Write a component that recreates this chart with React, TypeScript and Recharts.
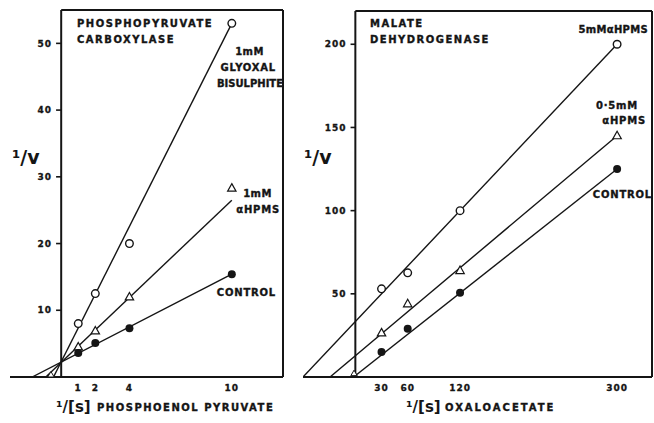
import { ComposedChart, Line, Scatter, XAxis, YAxis, ReferenceLine } from "recharts";

const INK = "#151515";
const FONT = "'DejaVu Sans', sans-serif";

// left panel: phosphopyruvate carboxylase
const pepX = [1, 2, 4, 10];
const pepGlyoxal = [8, 12.5, 20, 53];
const pepHpms = [4.5, 6.9, 12, 28.3];
const pepControl = [3.6, 5.1, 7.3, 15.4];
const pepGlyoxalFit = [{ x: -0.45, y: 0 }, { x: 10, y: 53 }];
const pepHpmsFit = [{ x: -0.9, y: 0 }, { x: 10, y: 26.5 }];
const pepControlFit = [{ x: -1.7, y: 0 }, { x: 10, y: 15.4 }];
const pepIntercept = [{ x: -0.6, y: 0.3 }];
const pepXTicks = [1, 2, 4, 10];
const pepYTicks = [10, 20, 30, 40, 50];

// right panel: malate dehydrogenase
const oaaX = [30, 60, 120, 300];
const mdh5 = [53, 62.6, 100, 200];
const mdh05 = [26.5, 44, 64, 145];
const mdhControl = [15, 29, 50.6, 125];
const mdh5Fit = [{ x: -60, y: 0 }, { x: 300, y: 200 }];
const mdh05Fit = [{ x: -29, y: 0 }, { x: 300, y: 145 }];
const mdhControlFit = [{ x: -2, y: 0 }, { x: 300, y: 125 }];
const mdhIntercept = [{ x: -1.5, y: 2 }];
const oaaXTicks = [30, 60, 120, 300];
const mdhYTicks = [50, 100, 150, 200];

const pts = (xs: number[], ys: number[]) => xs.map((x, i) => ({ x, y: ys[i] }));

const OpenCircle = (p: any) => (
  <circle cx={p.cx} cy={p.cy} r={3.8} fill="#fff" stroke={INK} strokeWidth={1.4} />
);
const FilledCircle = (p: any) => <circle cx={p.cx} cy={p.cy} r={4} fill={INK} />;
const OpenTriangle = (p: any) => (
  <path
    d={`M${p.cx},${p.cy - 4.5} L${p.cx + 4.2},${p.cy + 3} L${p.cx - 4.2},${p.cy + 3} Z`}
    fill="#fff"
    stroke={INK}
    strokeWidth={1.2}
  />
);
const SmallTriangle = (p: any) => (
  <path
    d={`M${p.cx},${p.cy - 3.5} L${p.cx + 3.2},${p.cy + 2} L${p.cx - 3.2},${p.cy + 2} Z`}
    fill="#fff"
    stroke={INK}
    strokeWidth={1}
  />
);

interface PanelProps {
  width: number;
  margin: { top: number; right: number; left: number; bottom: number };
  xDomain: [number, number];
  yDomain: [number, number];
  xTicks: number[];
  yTicks: number[];
  tickLen: number;
  fits: { x: number; y: number }[][];
  open: { x: number; y: number }[];
  tri: { x: number; y: number }[];
  filled: { x: number; y: number }[];
  intercept: { x: number; y: number }[];
}

const tickFont = {
  fill: INK,
  fontSize: 9,
  fontWeight: "bold",
  fontFamily: FONT,
  letterSpacing: 1,
  stroke: INK,
  strokeWidth: 0.3,
};

function Panel(p: PanelProps) {
  const x1 = p.xDomain[1];
  const yMax = p.yDomain[1];
  return (
    <ComposedChart width={p.width} height={423} margin={p.margin}>
      <XAxis
        type="number"
        dataKey="x"
        domain={p.xDomain}
        ticks={p.xTicks}
        tickLine={false}
        axisLine={{ stroke: INK, strokeWidth: 2 }}
        tick={tickFont}
        height={30}
        allowDataOverflow
      />
      <YAxis type="number" dataKey="y" domain={p.yDomain} hide allowDataOverflow />
      <ReferenceLine x={0} stroke={INK} strokeWidth={2} ifOverflow="visible" />
      <ReferenceLine x={x1} stroke={INK} strokeWidth={2} ifOverflow="visible" />
      <ReferenceLine
        segment={[{ x: 0, y: yMax }, { x: x1, y: yMax }]}
        stroke={INK}
        strokeWidth={2}
        ifOverflow="visible"
      />
      {p.yTicks.map((t) => (
        <ReferenceLine
          key={t}
          segment={[{ x: -p.tickLen, y: t }, { x: 0, y: t }]}
          stroke={INK}
          strokeWidth={1.6}
          ifOverflow="visible"
          label={{ value: String(t), position: "left", offset: 4, ...tickFont }}
        />
      ))}
      {p.fits.map((f, i) => (
        <Line
          key={i}
          data={f}
          dataKey="y"
          type="linear"
          stroke={INK}
          strokeWidth={1.4}
          dot={false}
          activeDot={false}
          isAnimationActive={false}
        />
      ))}
      <Scatter data={p.intercept} shape={SmallTriangle} isAnimationActive={false} />
      <Scatter data={p.open} shape={OpenCircle} isAnimationActive={false} />
      <Scatter data={p.tri} shape={OpenTriangle} isAnimationActive={false} />
      <Scatter data={p.filled} shape={FilledCircle} isAnimationActive={false} />
    </ComposedChart>
  );
}

const lbl = {
  fill: INK,
  fontFamily: FONT,
  fontWeight: "bold" as const,
  fontSize: 10,
  letterSpacing: 1.5,
  stroke: INK,
  strokeWidth: 0.35,
};

export default function App() {
  return (
    <div style={{ position: "absolute", left: 0, top: 0, width: 654, height: 423, background: "#fff" }}>
      <div style={{ position: "absolute", left: 0, top: 0 }}>
        <Panel
          width={300}
          margin={{ top: 10, right: 17, left: 10, bottom: 16 }}
          xDomain={[-3, 13]}
          yDomain={[0, 55]}
          xTicks={pepXTicks}
          yTicks={pepYTicks}
          tickLen={0.3}
          fits={[pepGlyoxalFit, pepHpmsFit, pepControlFit]}
          open={pts(pepX, pepGlyoxal)}
          tri={pts(pepX, pepHpms)}
          filled={pts(pepX, pepControl)}
          intercept={pepIntercept}
        />
      </div>
      <div style={{ position: "absolute", left: 300, top: 0 }}>
        <Panel
          width={354}
          margin={{ top: 11, right: 2, left: 3, bottom: 16 }}
          xDomain={[-60, 340]}
          yDomain={[0, 220]}
          xTicks={oaaXTicks}
          yTicks={mdhYTicks}
          tickLen={5.5}
          fits={[mdh5Fit, mdh05Fit, mdhControlFit]}
          open={pts(oaaX, mdh5)}
          tri={pts(oaaX, mdh05)}
          filled={pts(oaaX, mdhControl)}
          intercept={mdhIntercept}
        />
      </div>
      <svg
        width={654}
        height={423}
        style={{ position: "absolute", left: 0, top: 0, pointerEvents: "none" }}
      >
        <text x={77} y={27} {...lbl}>PHOSPHOPYRUVATE</text>
        <text x={77} y={43} {...lbl}>CARBOXYLASE</text>
        <text x={264} y={55} textAnchor="end" {...lbl} letterSpacing={0.5}>1mM</text>
        <text x={276} y={71} textAnchor="end" {...lbl} letterSpacing={0.8}>GLYOXAL</text>
        <text x={283} y={87} textAnchor="end" {...lbl} letterSpacing={0}>BISULPHITE</text>
        <text x={272} y={197} textAnchor="end" {...lbl} letterSpacing={0.5}>1mM</text>
        <text x={280} y={213} textAnchor="end" {...lbl} letterSpacing={0.8}>αHPMS</text>
        <text x={276} y={296} textAnchor="end" {...lbl} letterSpacing={0.8}>CONTROL</text>
        <text x={12} y={164} fill={INK} fontFamily={FONT} fontWeight="bold" fontSize={19}>¹/v</text>
        <text x={56} y={412} fill={INK} fontFamily={FONT} fontWeight="bold" fontSize={15}>¹/[s]</text>
        <text x={97} y={411} {...lbl}>PHOSPHOENOL PYRUVATE</text>

        <text x={370} y={27} {...lbl}>MALATE</text>
        <text x={370} y={43} {...lbl}>DEHYDROGENASE</text>
        <text x={648} y={33} textAnchor="end" {...lbl} letterSpacing={0.3}>5mMαHPMS</text>
        <text x={638} y={109} textAnchor="end" {...lbl} letterSpacing={0.8}>0·5mM</text>
        <text x={646} y={124} textAnchor="end" {...lbl} letterSpacing={0.8}>αHPMS</text>
        <text x={652} y={198} textAnchor="end" {...lbl} letterSpacing={0.8}>CONTROL</text>
        <text x={304} y={164} fill={INK} fontFamily={FONT} fontWeight="bold" fontSize={19}>¹/v</text>
        <text x={406} y={412} fill={INK} fontFamily={FONT} fontWeight="bold" fontSize={15}>¹/[s]</text>
        <text x={445} y={411} {...lbl} letterSpacing={2}>OXALOACETATE</text>
      </svg>
    </div>
  );
}
